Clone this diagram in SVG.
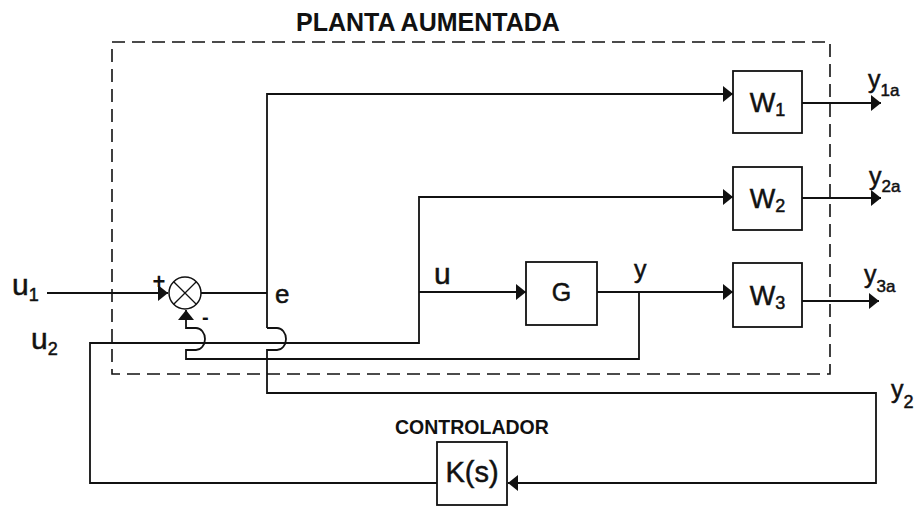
<svg xmlns="http://www.w3.org/2000/svg" width="919" height="506" viewBox="0 0 919 506">
<defs>
<style>
.ln{fill:none;stroke:#111;stroke-width:1.8}
.box{fill:#fff;stroke:#111;stroke-width:1.8}
.dash{fill:none;stroke:#111;stroke-width:1.6;stroke-dasharray:13 7}
.t{font-family:"Liberation Sans",Arial,sans-serif;fill:#111}
.h{stroke:#111;stroke-width:0.5}
.b{font-weight:bold}
</style>
<marker id="ah" markerUnits="userSpaceOnUse" markerWidth="12" markerHeight="18" refX="10" refY="8" orient="auto">
<path d="M0,0 L10,8 L0,16 z" fill="#111"/>
</marker>
</defs>
<rect width="919" height="506" fill="#fff"/>

<g id="planta">
<rect class="dash" x="112" y="42" width="718" height="332"/>
<text class="t b" x="296" y="31" font-size="25">PLANTA AUMENTADA</text>
</g>

<g id="connectors">
<path class="ln" d="M47,293 H168" marker-end="url(#ah)"/>
<path class="ln" d="M201,293 H267"/>
<path class="ln" d="M267,328 V94 H733" marker-end="url(#ah)"/>
<path class="ln" d="M267,328 h10 a9,11 0 0 1 0,22 h-10 V393 H876 V483 H508" marker-end="url(#ah)"/>
<path class="ln" d="M437,483 H90 V343 H419 V197 H733" marker-end="url(#ah)"/>
<path class="ln" d="M419,292 H526" marker-end="url(#ah)"/>
<path class="ln" d="M597,292 H733" marker-end="url(#ah)"/>
<path class="ln" d="M639,292 V359 H186 V350 h10 a9,11 0 0 0 0,-22 h-10 V310" marker-end="url(#ah)"/>
<path class="ln" d="M802,103 H881" marker-end="url(#ah)"/>
<path class="ln" d="M802,198 H881" marker-end="url(#ah)"/>
<path class="ln" d="M802,301 H879" marker-end="url(#ah)"/>
</g>

<g id="sum">
<circle cx="185" cy="293" r="16" fill="#fff" stroke="#111" stroke-width="1.5"/>
<path class="ln" style="stroke-width:1.3" d="M173.7,281.7 L196.3,304.3 M196.3,281.7 L173.7,304.3"/>
<text class="t b" x="159" y="289" font-size="22" text-anchor="middle">+</text>
<text class="t b" x="202" y="324" font-size="20">-</text>
</g>

<g id="G">
<rect class="box" x="526" y="262" width="71" height="63"/>
<text class="t h" x="561.5" y="301" font-size="25" text-anchor="middle">G</text>
</g>

<g id="W1">
<rect class="box" x="733" y="71" width="69" height="62"/>
<text class="t h" x="767.5" y="112" font-size="27" text-anchor="middle">W<tspan font-size="18" dy="4">1</tspan></text>
</g>
<g id="W2">
<rect class="box" x="733" y="167" width="69" height="63"/>
<text class="t h" x="767.5" y="208" font-size="27" text-anchor="middle">W<tspan font-size="18" dy="4">2</tspan></text>
</g>
<g id="W3">
<rect class="box" x="733" y="263" width="69" height="64"/>
<text class="t h" x="767.5" y="305" font-size="27" text-anchor="middle">W<tspan font-size="18" dy="4">3</tspan></text>
</g>

<g id="K">
<text class="t b" x="395" y="434" font-size="19.5">CONTROLADOR</text>
<rect class="box" x="437" y="442" width="70" height="63"/>
<text class="t h" x="472" y="482" font-size="29" text-anchor="middle">K(s)</text>
</g>

<g id="labels">
<text class="t h" x="12" y="295" font-size="30">u<tspan font-size="18" dy="6">1</tspan></text>
<text class="t h" x="31" y="349" font-size="30">u<tspan font-size="18" dy="6">2</tspan></text>
<text class="t h" x="275" y="303" font-size="26">e</text>
<text class="t h" x="434" y="284" font-size="30">u</text>
<text class="t h" x="634" y="278" font-size="25">y</text>
<text class="t h" x="868" y="88" font-size="25">y<tspan font-size="17" dy="8">1a</tspan></text>
<text class="t h" x="869" y="185" font-size="25">y<tspan font-size="17" dy="7">2a</tspan></text>
<text class="t h" x="864" y="283" font-size="25">y<tspan font-size="17" dy="9">3a</tspan></text>
<text class="t h" x="891" y="398" font-size="25">y<tspan font-size="18" dy="10">2</tspan></text>
</g>
</svg>
